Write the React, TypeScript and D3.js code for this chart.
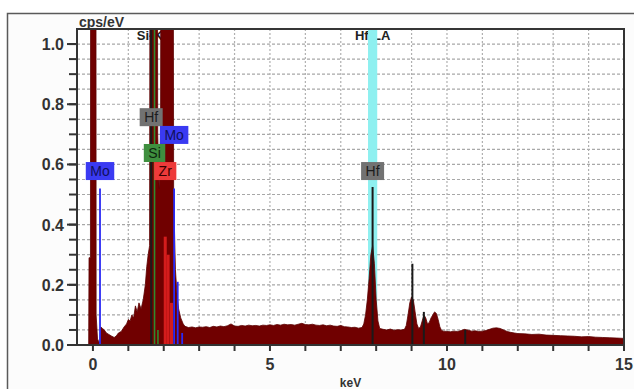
import React, { useEffect, useRef } from "react";
import * as d3 from "d3";

// spectrum (keV, cps/eV); values above the frame are clipped
const spectrumKeV = [
  -0.2, -0.12, -0.11, -0.07, -0.06, 0.08, 0.09, 0.13, 0.17, 0.2, 0.22, 0.27, 0.32, 0.38, 0.45, 0.52, 0.6,
  0.66, 0.72, 0.8, 0.88, 0.95, 1.0, 1.05, 1.1, 1.15, 1.2, 1.25, 1.3, 1.36, 1.42, 1.48, 1.52, 1.56, 1.6,
  1.63, 1.8, 1.83, 1.87, 1.91, 1.94, 2.25, 2.28, 2.33, 2.38, 2.42, 2.48, 2.55,
  2.6, 2.7, 2.8, 2.9, 3.0, 3.1, 3.2, 3.3, 3.4, 3.5, 3.6, 3.7, 3.8, 3.9, 4.0, 4.1, 4.2, 4.3, 4.4, 4.5,
  4.6, 4.7, 4.8, 4.9, 5.0, 5.1, 5.2, 5.3, 5.4, 5.5, 5.6, 5.7, 5.8, 5.9, 6.0, 6.1, 6.2, 6.3, 6.4, 6.5,
  6.6, 6.7, 6.8, 6.9, 7.0, 7.1, 7.2, 7.3, 7.4, 7.5, 7.6, 7.65, 7.7, 7.75, 7.8, 7.85, 7.9, 7.95, 8.0,
  8.05, 8.1, 8.2, 8.3, 8.4, 8.5, 8.6, 8.7, 8.8, 8.85, 8.9, 8.95, 9.0, 9.05, 9.1, 9.15, 9.2, 9.25, 9.3,
  9.35, 9.4, 9.45, 9.5, 9.55, 9.6, 9.65, 9.7, 9.75, 9.8, 9.85, 9.9, 10.0, 10.1, 10.2, 10.3, 10.4, 10.5,
  10.6, 10.7, 10.8, 10.9, 11.0, 11.1, 11.2, 11.3, 11.4, 11.5, 11.6, 11.7, 11.8, 11.9, 12.0, 12.2, 12.4,
  12.6, 12.8, 13.0, 13.2, 13.4, 13.6, 13.8, 14.0, 14.2, 14.4, 14.6, 14.8, 15.0,
];
const spectrumCps = [
  0, 0, 0.29, 0.29, 3, 3, 0.1, 0.02, 0.01, 0.01, 0.06, 0.055, 0.05, 0.04, 0.035, 0.03, 0.025,
  0.03, 0.04, 0.045, 0.06, 0.07, 0.085, 0.08, 0.1, 0.09, 0.13, 0.11, 0.14, 0.12, 0.15, 0.2, 0.26, 0.3, 0.33,
  3, 3, 0.7, 0.52, 0.7, 3, 3, 0.5, 0.25, 0.16, 0.12, 0.09, 0.07,
  0.062, 0.058, 0.06, 0.057, 0.06, 0.059, 0.061, 0.058, 0.062, 0.06, 0.063, 0.061, 0.064, 0.07, 0.063, 0.062, 0.065, 0.063, 0.066, 0.064,
  0.065, 0.063, 0.066, 0.065, 0.067, 0.065, 0.068, 0.066, 0.069, 0.067, 0.068, 0.066, 0.069, 0.072, 0.068, 0.067, 0.069, 0.066, 0.065, 0.067,
  0.064, 0.066, 0.063, 0.062, 0.065, 0.061, 0.06, 0.058, 0.059, 0.056, 0.058, 0.07, 0.1, 0.15, 0.22, 0.3, 0.33, 0.27, 0.15,
  0.08, 0.055, 0.052, 0.05, 0.053, 0.049, 0.051, 0.05, 0.052, 0.065, 0.1, 0.14, 0.16, 0.15, 0.11, 0.07, 0.055, 0.06, 0.08,
  0.1, 0.09, 0.07, 0.075, 0.09, 0.1, 0.11, 0.105, 0.085, 0.06, 0.048, 0.046, 0.045, 0.044, 0.046, 0.045, 0.048, 0.052,
  0.049, 0.046, 0.047, 0.045, 0.046, 0.048, 0.052, 0.056, 0.057, 0.055, 0.05, 0.045, 0.042, 0.04, 0.038, 0.037, 0.035,
  0.036, 0.033, 0.032, 0.031, 0.03, 0.029, 0.027, 0.028, 0.026, 0.025, 0.024, 0.023, 0.022,
];

// element marker lines
const moLines = [[0.2, 0.52], [2.293, 0.52], [2.395, 0.21], [2.52, 0.04]];
const siLines = [[1.74, 1.2], [1.836, 0.05]];
const hfLines = [[1.645, 1.2], [7.899, 0.525], [9.023, 0.27], [9.347, 0.11], [10.515, 0.05]];
const zrLines = [[2.042, 0.36], [2.124, 0.3], [2.219, 0.14]];

// element tags: symbol, keV, level of box centre
const tagSymbols = ["Mo", "Hf", "Mo", "Si", "Zr", "Hf"];
const tagKeV = [0.2, 1.645, 2.293, 1.74, 2.042, 7.899];
const tagLevel = [0.578, 0.757, 0.698, 0.638, 0.578, 0.578];

// regions of interest
const roiLabels = ["Si-KA", "Hf-LA"];
const roiCentre = [1.74, 7.9];
const roiShown = [false, true];

const yTicks = [0, 0.2, 0.4, 0.6, 0.8, 1.0];
const xTicks = [0, 5, 10, 15];

const colors: Record<string, [string, string]> = {
  Mo: ["#3a3af2", "#10105a"],
  Hf: ["#727272", "#1c1c1c"],
  Si: ["#3f8f3f", "#0e250e"],
  Zr: ["#ee3a3a", "#3a0000"],
};

export default function App() {
  const ref = useRef<SVGSVGElement>(null);

  useEffect(() => {
    const svg = d3.select(ref.current);
    svg.selectAll("*").remove();
    const W = 634;
    const H = 389;
    const left = 77, right = 624, top = 29, bottom = 345;
    const font = "Arial, 'Liberation Sans', sans-serif";

    const x = d3.scaleLinear().domain([-0.45, 15]).range([left, right]);
    const y = d3.scaleLinear().domain([0, 1.05]).range([bottom, top]);

    svg.append("rect").attr("width", W).attr("height", H).attr("fill", "#fff");
    svg.append("rect").attr("x", 7.5).attr("y", 13.5).attr("width", 700).attr("height", 500)
      .attr("fill", "#fcfcfc").attr("stroke", "#5a5a5a").attr("stroke-width", 1.5);
    svg.append("rect").attr("x", left).attr("y", top).attr("width", right - left).attr("height", bottom - top)
      .attr("fill", "#fff");

    svg.append("clipPath").attr("id", "plot").append("rect")
      .attr("x", left).attr("y", top).attr("width", right - left).attr("height", bottom - top);

    const g = svg.append("g").attr("clip-path", "url(#plot)");

    // grid
    g.selectAll(".hg").data(d3.range(1, 21).map((i) => i * 0.05)).join("line")
      .attr("x1", left).attr("x2", right).attr("y1", (d) => y(d)).attr("y2", (d) => y(d))
      .attr("stroke", "#a8a8a8").attr("stroke-width", 1.2).attr("stroke-dasharray", "3,2");
    g.selectAll(".vg").data(d3.range(1, 15)).join("line")
      .attr("x1", (d) => x(d)).attr("x2", (d) => x(d)).attr("y1", top).attr("y2", bottom)
      .attr("stroke", "#b0b0b0").attr("stroke-width", 1.2).attr("stroke-dasharray", "2,2");

    // roi labels (under the bands and peaks)
    roiLabels.forEach((lab, i) => {
      g.append("text").attr("x", x(roiCentre[i])).attr("y", top + 11)
        .attr("text-anchor", "middle").attr("font-family", font).attr("font-size", 13)
        .attr("font-weight", "bold").attr("fill", "#222").text(lab);
      if (roiShown[i]) {
        g.append("rect").attr("x", x(roiCentre[i] - 0.13)).attr("y", top)
          .attr("width", x(roiCentre[i] + 0.13) - x(roiCentre[i] - 0.13)).attr("height", bottom - top)
          .attr("fill", "#8ef0f0");
      }
    });

    // spectrum
    const pts = spectrumKeV.map((e, i) => [e, spectrumCps[i]] as [number, number]);
    const area = d3.area<[number, number]>().x((d) => x(d[0])).y0(y(0)).y1((d) => y(d[1]));
    g.append("path").attr("d", area(pts)).attr("fill", "#700000").attr("stroke", "#5a0000").attr("stroke-width", 0.8);

    // element lines
    const drawLines = (lines: number[][], color: string, w: number) => {
      g.selectAll(null).data(lines).join("line")
        .attr("x1", (d) => x(d[0])).attr("x2", (d) => x(d[0]))
        .attr("y1", y(0)).attr("y2", (d) => y(d[1]))
        .attr("stroke", color).attr("stroke-width", w);
    };
    drawLines(zrLines, "#d41c1c", 3);
    drawLines(hfLines, "#1a1a1a", 2);
    drawLines(siLines, "#2e8b2e", 1.6);
    drawLines(moLines, "#2a2af5", 1.8);

    // tags
    tagSymbols.forEach((sym, i) => {
      const [bg, fg] = colors[sym];
      const cx = x(tagKeV[i]);
      const cy = y(tagLevel[i]);
      const tg = g.append("g");
      const t = tg.append("text").attr("x", cx).attr("y", cy + 5).attr("text-anchor", "middle")
        .attr("font-family", font).attr("font-size", 14).attr("fill", fg).text(sym);
      const tw = (t.node() as SVGTextElement).getComputedTextLength();
      tg.insert("rect", "text").attr("x", cx - tw / 2 - 4.5).attr("y", cy - 9)
        .attr("width", tw + 9).attr("height", 18).attr("fill", bg);
    });

    // frame and axes
    svg.append("rect").attr("x", left).attr("y", top).attr("width", right - left).attr("height", bottom - top)
      .attr("fill", "none").attr("stroke", "#333").attr("stroke-width", 2);

    const yMinor = d3.range(0, 21).map((i) => i * 0.05);
    svg.selectAll(".ym").data(yMinor).join("line")
      .attr("x1", left - 8).attr("x2", left).attr("y1", (d) => y(d)).attr("y2", (d) => y(d))
      .attr("stroke", "#333").attr("stroke-width", 2);
    svg.selectAll(".yM").data(yTicks).join("line")
      .attr("x1", left - 10).attr("x2", left).attr("y1", (d) => y(d)).attr("y2", (d) => y(d))
      .attr("stroke", "#333").attr("stroke-width", 2);
    svg.selectAll(".yl").data(yTicks).join("text")
      .attr("x", left - 13).attr("y", (d) => y(d) + 6).attr("text-anchor", "end")
      .attr("font-family", font).attr("font-size", 16).attr("font-weight", "bold").attr("fill", "#333")
      .text((d) => d3.format(".1f")(d));

    svg.selectAll(".xm").data(d3.range(0, 16)).join("line")
      .attr("x1", (d) => x(d)).attr("x2", (d) => x(d)).attr("y1", bottom).attr("y2", bottom + 6)
      .attr("stroke", "#333").attr("stroke-width", 2);
    svg.selectAll(".xl").data(xTicks).join("text")
      .attr("x", (d) => x(d)).attr("y", bottom + 25).attr("text-anchor", "middle")
      .attr("font-family", font).attr("font-size", 16).attr("font-weight", "bold").attr("fill", "#333")
      .text((d) => String(d));

    svg.append("text").attr("x", left + 2).attr("y", top - 2).attr("font-family", font)
      .attr("font-size", 14).attr("font-weight", "bold").attr("fill", "#333").text("cps/eV");
    svg.append("text").attr("x", (left + right) / 2).attr("y", H - 2).attr("text-anchor", "middle")
      .attr("font-family", font).attr("font-size", 12).attr("font-weight", "bold").attr("fill", "#333").text("keV");
  }, []);

  return <svg ref={ref} width={634} height={389} style={{ position: "absolute", left: 0, top: 0 }} />;
}
